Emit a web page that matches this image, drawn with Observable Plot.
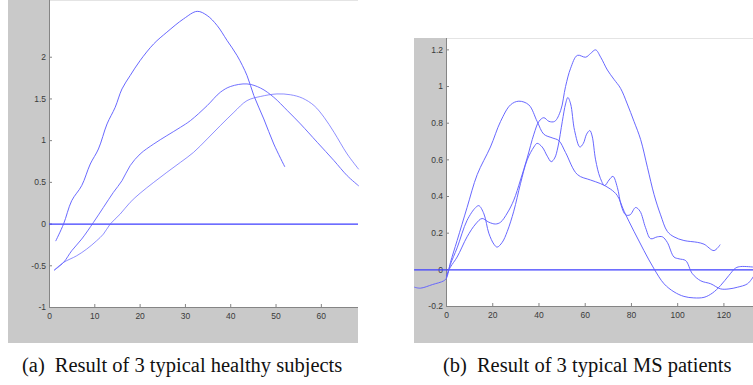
<!DOCTYPE html>
<html>
<head>
<meta charset="utf-8">
<script src="https://cdn.jsdelivr.net/npm/d3@7"></script>
<script src="https://cdn.jsdelivr.net/npm/@observablehq/plot@0.6"></script>
<style>
  html, body { margin: 0; padding: 0; background: #ffffff; }
  #page { position: relative; width: 753px; height: 385px; overflow: hidden; }
  .panel { position: absolute; }
  .cap { position: absolute; font-family: "Liberation Serif", "DejaVu Serif", serif; font-size: 20.5px; color: #111; white-space: nowrap; line-height: 1; }
  .cap span.lab { margin-right: 10px; }
</style>
</head>
<body>
<div id="page">
  <div id="pa" class="panel" style="left:8px; top:0px;"></div>
  <div id="pb" class="panel" style="left:414px; top:38px;"></div>
  <div class="cap" style="left:22px; top:355px;"><span class="lab">(a)</span>Result of 3 typical healthy subjects</div>
  <div class="cap" style="left:443px; top:355px;"><span class="lab">(b)</span>Result of 3 typical MS patients</div>
</div>
<script>
// ---------- Tick labels ----------
const xTicksA = [0, 10, 20, 30, 40, 50, 60];
const yTicksA = [-1, -0.5, 0, 0.5, 1, 1.5, 2];
const xTicksB = [0, 20, 40, 60, 80, 100, 120];
const yTicksB = [-0.2, 0, 0.2, 0.4, 0.6, 0.8, 1, 1.2];

// ---------- (a) healthy subjects: [x, y] ----------
const healthy1 = [
  [1.4, -0.2], [3.1, 0], [4.9, 0.28], [7.1, 0.46], [9.0, 0.72], [10.8, 0.9], [12.7, 1.2],
  [14.5, 1.4], [16.0, 1.62], [17.8, 1.78], [20.0, 1.96], [23.0, 2.16], [25.9, 2.3],
  [29.6, 2.46], [32.6, 2.55], [34.8, 2.5], [37.0, 2.38], [39.2, 2.2], [41.4, 2.02],
  [43.6, 1.78], [45.1, 1.54], [47.3, 1.26], [49.5, 0.96], [51.9, 0.69]
];
const healthy2 = [
  [1.1, -0.55], [3.1, -0.46], [4.9, -0.32], [7.1, -0.18], [9.7, 0.02], [11.9, 0.2],
  [14.1, 0.38], [16.0, 0.52], [17.8, 0.7], [20.0, 0.84], [23.0, 0.96], [25.9, 1.06],
  [28.9, 1.16], [31.1, 1.24], [34.8, 1.42], [37.7, 1.58], [40.0, 1.65], [43.6, 1.68],
  [46.6, 1.63], [49.5, 1.52], [52.5, 1.36], [55.4, 1.2], [59.1, 0.98], [62.8, 0.76],
  [65.7, 0.58], [68.2, 0.46]
];
const healthy3 = [
  [1.1, -0.55], [3.1, -0.46], [6.0, -0.38], [8.2, -0.3], [10.4, -0.2], [11.9, -0.12],
  [13.4, 0], [15.6, 0.12], [17.8, 0.26], [20.0, 0.37], [23.0, 0.5], [25.9, 0.62],
  [28.9, 0.74], [31.8, 0.86], [34.8, 1.02], [37.7, 1.18], [40.7, 1.34], [43.6, 1.48],
  [46.6, 1.53], [50.2, 1.56], [53.2, 1.55], [55.8, 1.51], [58.4, 1.42], [60.6, 1.28],
  [62.8, 1.1], [65.7, 0.84], [68.2, 0.66]
];

// ---------- (b) MS patients: [x, y] ----------
const ms1 = [
  [-13.8, -0.095], [-11.3, -0.1], [-6, -0.08], [-1.2, -0.06], [0, -0.045], [1.7, 0.04],
  [4.6, 0.16], [8.9, 0.34], [13.3, 0.52], [19.0, 0.67], [23.4, 0.81], [27.7, 0.9],
  [31.3, 0.92], [35.6, 0.9], [39.2, 0.81], [42.1, 0.74], [45.7, 0.72], [48.6, 0.705],
  [51.5, 0.64], [56.6, 0.52], [62.3, 0.49], [66.7, 0.47], [71.0, 0.44], [73.9, 0.405],
  [76.8, 0.32], [81.1, 0.21], [85.4, 0.105], [89.8, 0.005], [94.1, -0.076], [98.4, -0.12],
  [102.7, -0.145], [107.0, -0.153], [111.4, -0.15], [115.0, -0.127], [118.6, -0.085],
  [122.2, -0.03], [125.1, 0.01], [127.3, 0.018], [132.8, 0.015]
];
const ms2 = [
  [0, -0.04], [1.7, 0.03], [4.6, 0.12], [8.9, 0.27], [12.6, 0.34], [14.0, 0.35],
  [16.2, 0.305], [18.3, 0.2], [20.5, 0.14], [21.9, 0.124], [24.1, 0.15], [26.3, 0.21],
  [29.1, 0.32], [32.0, 0.47], [34.9, 0.6], [37.8, 0.67], [39.2, 0.69], [41.4, 0.67],
  [43.6, 0.62], [45.3, 0.59], [46.8, 0.61], [48.2, 0.67], [50.1, 0.81], [51.5, 0.905],
  [52.5, 0.94], [53.7, 0.905], [55.4, 0.76], [57.7, 0.67], [59.2, 0.69], [60.6, 0.74],
  [62.0, 0.76], [63.0, 0.73], [64.5, 0.6], [66.4, 0.505], [68.4, 0.46], [70.3, 0.49],
  [72.0, 0.51], [73.9, 0.45], [75.6, 0.35], [77.5, 0.30], [79.4, 0.30], [81.8, 0.34],
  [83.7, 0.32], [86.1, 0.23], [88.3, 0.17], [91.2, 0.18], [93.4, 0.18], [95.5, 0.15],
  [98.4, 0.07], [100.6, 0.06], [103.5, 0.05], [106.3, -0.02], [110.0, -0.06],
  [114.3, -0.076], [118.6, -0.104], [122.2, -0.104], [125.8, -0.095], [130.2, -0.076],
  [132.8, -0.036]
];
const ms3 = [
  [0, -0.03], [1.7, 0.015], [4.6, 0.07], [8.9, 0.18], [12.6, 0.25], [15.4, 0.28],
  [18.3, 0.26], [21.2, 0.25], [23.4, 0.26], [26.3, 0.31], [29.1, 0.38], [32.0, 0.49],
  [34.9, 0.61], [37.8, 0.74], [40.0, 0.81], [42.1, 0.83], [44.3, 0.81], [46.8, 0.81],
  [49.4, 0.87], [51.5, 1.0], [53.7, 1.1], [56.6, 1.17], [60.2, 1.16], [62.3, 1.18],
  [64.5, 1.2], [66.7, 1.16], [69.6, 1.09], [72.4, 1.04], [75.3, 0.99], [78.2, 0.905],
  [81.1, 0.81], [84.0, 0.71], [86.9, 0.56], [89.8, 0.41], [92.6, 0.30], [95.5, 0.21],
  [98.4, 0.18], [102.7, 0.16], [108.5, 0.15], [111.4, 0.14], [115.7, 0.105], [118.3, 0.136]
];

// zero reference lines (x extent in data units)
const zeroA = [{y: 0, x1: 0, x2: 68.2}];
const zeroB = [{y: 0, x1: -13.8, x2: 132.8}];

const axisColor = "#858585";
const labelColor = "#3a3a3a";
const curveColor = "#6060ff";
const zeroColor = "#3e3eff";

function panel({width, height, marginLeft, marginBottom, xDomain, yDomain, xTicks, yTicks, series, zero, opacities}) {
  return Plot.plot({
    width, height,
    marginLeft, marginRight: 0, marginTop: 0, marginBottom,
    x: {domain: xDomain, label: null},
    y: {domain: yDomain, label: null},
    style: {
      background: "#c9c9c9",
      fontFamily: "'Liberation Sans', Arial, sans-serif",
      fontSize: "8.5px",
      color: labelColor,
      overflow: "visible"
    },
    marks: [
      Plot.frame({fill: "white"}),
      Plot.ruleX([xDomain[0]], {stroke: axisColor}),
      Plot.ruleY([yDomain[0]], {stroke: axisColor}),
      Plot.axisX(xTicks, {tickSize: -3, tickPadding: 8.5, stroke: axisColor, fill: labelColor, label: null, tickFormat: d => String(d)}),
      Plot.axisY(yTicks, {tickSize: -3, tickPadding: 6.5, stroke: axisColor, fill: labelColor, label: null, tickFormat: d => String(d)}),
      Plot.ruleY(zero, {y: "y", x1: "x1", x2: "x2", stroke: zeroColor, strokeWidth: 1.1}),
      ...series.map((s, i) => Plot.line(s, {x: d => d[0], y: d => d[1], stroke: curveColor, strokeWidth: 1, strokeOpacity: opacities[i], curve: "catmull-rom"}))
    ]
  });
}

document.getElementById("pa").appendChild(panel({
  width: 350, height: 343, marginLeft: 41, marginBottom: 36,
  xDomain: [0, 68.2], yDomain: [-1, 2.68],
  xTicks: xTicksA, yTicks: yTicksA,
  series: [healthy1, healthy2, healthy3], zero: zeroA, opacities: [0.95, 0.9, 0.7]
}));

document.getElementById("pb").appendChild(panel({
  width: 339, height: 305, marginLeft: 32, marginBottom: 37,
  xDomain: [0, 132.8], yDomain: [-0.2, 1.262],
  xTicks: xTicksB, yTicks: yTicksB,
  series: [ms1, ms2, ms3], zero: zeroB, opacities: [0.95, 0.95, 0.95]
}));
</script>
</body>
</html>
